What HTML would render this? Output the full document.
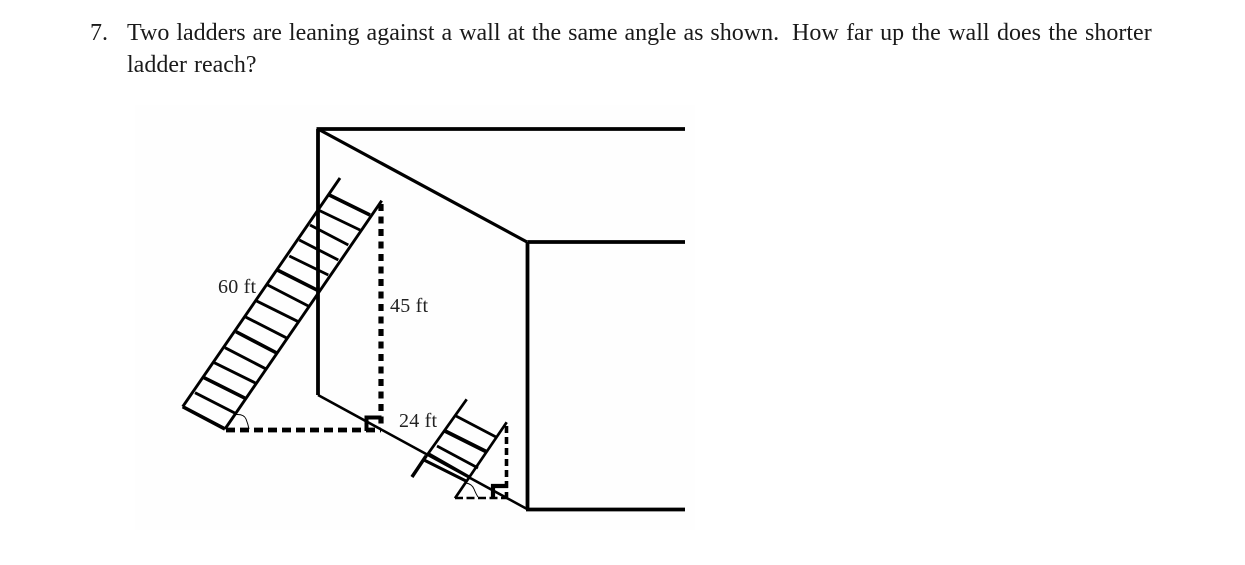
<!DOCTYPE html>
<html>
<head>
<meta charset="utf-8">
<style>
html,body{margin:0;padding:0;background:#fff;width:1245px;height:565px;overflow:hidden}
svg{position:absolute;left:0;top:0}
.t{font-family:"Liberation Serif",serif;font-size:24px;fill:#1a1a1a;word-spacing:1px}
.l{font-family:"Liberation Serif",serif;font-size:20px;fill:#222;letter-spacing:.2px}
</style>
</head>
<body>
<svg width="1245" height="565" viewBox="0 0 1245 565" xmlns="http://www.w3.org/2000/svg">
<defs><filter id="b" x="-5%" y="-5%" width="110%" height="110%"><feGaussianBlur stdDeviation="0.35"/></filter></defs>
<rect x="135" y="105" width="560" height="425" fill="#fefefe"/>
<text class="t" x="90" y="40">7.</text>
<text class="t" x="127" y="40">Two ladders are leaning against a wall at the same angle as shown.</text>
<text class="t" x="792" y="40" style="word-spacing:1.400px">How far up the wall does the shorter</text>
<text class="t" x="127" y="72">ladder reach?</text>
<g filter="url(#b)" stroke="#000" fill="none" stroke-linecap="butt">
  <path d="M316.500 129H685M318 129V395M527.500 242H685M527.500 242V509M526 509.500H685" stroke-width="3.800"/>
  <path d="M318 129L527 242" stroke-width="3.200"/>
  <path d="M318 395L527 509" stroke-width="2.600"/>
  <g stroke-width="2.900">
    <path d="M182.700 406.700L340 178"/>
    <path d="M225 429L381.700 200.700"/>
    <path d="M182.700 406.700L225 429" stroke-width="3.600"/>
    <path d="M195 392.700L236.700 414"/>
    <path d="M203.300 377.300L246 398.700" stroke-width="3.600"/>
    <path d="M214.300 362.700L256 383.300"/>
    <path d="M225 347.700L266.700 369.300"/>
    <path d="M236 331.700L277.300 353.300" stroke-width="3.600"/>
    <path d="M245 316.700L287.300 338.300"/>
    <path d="M256 300.700L298.300 321.700"/>
    <path d="M267.700 285L308.300 306"/>
    <path d="M277.300 270L318.300 290.700" stroke-width="3.600"/>
    <path d="M289.300 256L328.300 275"/>
    <path d="M299.300 240L338.300 260"/>
    <path d="M310 225L348.300 245"/>
    <path d="M318.300 210L360 230"/>
    <path d="M329.300 195L370 215" stroke-width="3.600"/>
  </g>
  <path d="M381 204V429" stroke-width="5.200" stroke-dasharray="7 5.500"/>
  <path d="M226 430H381" stroke-width="4.800" stroke-dasharray="9 5"/>
  <path d="M366.500 431V417.500H381.500" stroke-width="4"/>
  <path d="M236 414.500Q244 414 246 419T249 429" stroke-width="1"/>
  <g stroke-width="2.700">
    <path d="M411.700 476.700L466.700 399.300"/>
    <path d="M455 498.300L506.700 422.300"/>
    <path d="M456 416L496 437"/>
    <path d="M445 431L487 452" stroke-width="3.800"/>
    <path d="M437 446L478 468"/>
    <path d="M428 453L470 477" stroke-width="2.200"/>
    <path d="M424 460L466 481" stroke-width="3.200"/>
    <path d="M412 477L426 456" stroke-width="3.400"/>
  </g>
  <path d="M506.500 426V497" stroke-width="3.600" stroke-dasharray="7 4"/>
  <path d="M455 498H507" stroke-width="2.600" stroke-dasharray="8 3.500"/>
  <path d="M493 497V486H508" stroke-width="4.200"/>
  <path d="M466 483Q472 484 474 489T478 497" stroke-width="1"/>
</g>
<text class="l" x="218" y="293">60 ft</text>
<text class="l" x="390" y="312">45 ft</text>
<text class="l" x="399" y="427">24 ft</text>
</svg>
</body>
</html>
